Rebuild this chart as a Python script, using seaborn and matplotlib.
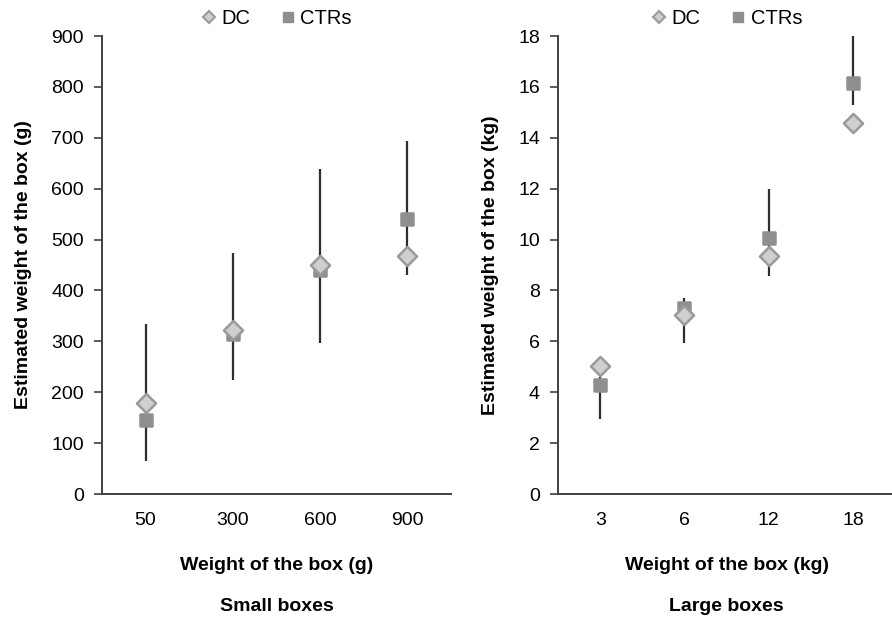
import numpy as np
import pandas as pd
import matplotlib
matplotlib.use('Agg')
import matplotlib.pyplot as plt
from matplotlib.lines import Line2D
import seaborn as sns

sns.set_style('white')
plt.rcParams['font.family'] = ['Liberation Sans', 'DejaVu Sans']
plt.rcParams['text.color'] = 'black'
plt.rcParams['axes.labelcolor'] = 'black'
plt.rcParams['xtick.color'] = 'black'
plt.rcParams['ytick.color'] = 'black'

## 데이터
small_cats = ['50', '300', '600', '900']
small_dc = [178, 323, 450, 468]
small_ctr = [145, 314, 440, 540]
small_err_lo = [65, 224, 297, 430]
small_err_hi = [334, 473, 638, 694]

large_cats = ['3', '6', '12', '18']
large_dc = [5.05, 7.05, 9.35, 14.6]
large_ctr = [4.3, 7.3, 10.05, 16.15]
large_err_lo = [2.95, 5.95, 8.55, 15.3]
large_err_hi = [4.6, 7.7, 12.0, 18.0]

colors = {'DC': '#cfcfcf', 'CTRs': '#8f8f8f'}
edges = {'DC': '#9a9a9a', 'CTRs': '#8f8f8f'}
markers = {'DC': 'D', 'CTRs': 's'}
sizes = {'DC': 95, 'CTRs': 70}


def panel(ax, cats, dc, ctr, lo, hi, ymax, ystep, ylab, xlab, title):
    df = pd.DataFrame({'cat': cats * 2,
                       'val': ctr + dc,
                       'grp': ['CTRs'] * len(cats) + ['DC'] * len(cats)})
    ax.vlines(cats, lo, hi, color='#2e2e2e', lw=1.6, zorder=1)
    for g in ['CTRs', 'DC']:
        d = df[df['grp'] == g]
        sns.scatterplot(data=d, x='cat', y='val', ax=ax, marker=markers[g],
                        s=sizes[g], color=colors[g], edgecolor=edges[g],
                        linewidth=1.8, zorder=3 if g == 'DC' else 2, legend=False)
    ax.set_xlim(-0.5, len(cats) - 0.5)
    ax.set_ylim(0, ymax)
    ax.set_yticks(np.arange(0, ymax + ystep, ystep))
    ax.set_xticks(np.arange(-0.5, len(cats), 1), minor=True)
    ax.tick_params(axis='x', which='major', length=0, labelsize=14, pad=13)
    ax.tick_params(axis='x', which='minor', length=6, width=1.2, color='#404040', direction='out')
    ax.tick_params(axis='y', length=6, width=1.2, color='#404040', direction='out',
                   labelsize=14, left=True, pad=7)
    sns.despine(ax=ax)
    for s in ['left', 'bottom']:
        ax.spines[s].set_color('#404040')
        ax.spines[s].set_linewidth(1.4)
    ax.set_ylabel(ylab, fontsize=14, fontweight='bold', labelpad=14)
    ax.set_xlabel(xlab, fontsize=14, fontweight='bold', labelpad=20)
    ax.text(0.5, -0.228, title, transform=ax.transAxes, ha='center', va='top',
            fontsize=14, fontweight='bold')
    handles = [Line2D([], [], ls='none', marker='D', ms=6.5, mfc=colors['DC'],
                      mec=edges['DC'], mew=1.5),
               Line2D([], [], ls='none', marker='s', ms=7, mfc=colors['CTRs'],
                      mec=edges['CTRs'])]
    ax.legend(handles, ['DC', 'CTRs'], loc='center', bbox_to_anchor=(0.5, 1.038),
              ncol=2, frameon=False, fontsize=14.5, handlelength=0.8,
              handletextpad=0.2, columnspacing=1.5, borderaxespad=0)


fig = plt.figure(figsize=(8.92, 6.18), dpi=100)
ax1 = fig.add_axes([0.1143, 0.2006, 0.3913, 0.7411])
ax2 = fig.add_axes([0.6256, 0.2006, 0.3778, 0.7411])

panel(ax1, small_cats, small_dc, small_ctr, small_err_lo, small_err_hi, 900, 100,
      'Estimated weight of the box (g)', 'Weight of the box (g)', 'Small boxes')
panel(ax2, large_cats, large_dc, large_ctr, large_err_lo, large_err_hi, 18, 2,
      'Estimated weight of the box (kg)', 'Weight of the box (kg)', 'Large boxes')

plt.savefig('out.png', dpi=100)
